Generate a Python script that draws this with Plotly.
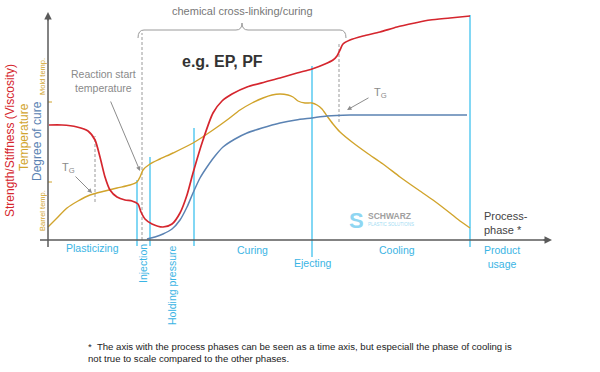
import plotly.graph_objects as go

# ---- data (x: process phase units from origin, y: height above phase axis) ----
red_x = [1, 14, 29, 40, 47, 52, 57, 62, 69, 77, 84, 90, 93, 97, 104, 115, 124, 132, 139, 145, 155, 165,
         174, 184, 199, 217, 232, 249, 264, 277, 285, 289, 292, 295, 302, 315, 332, 349, 367, 382, 402, 422]
red_y = [115, 115, 113, 109, 100, 83, 63, 50, 43, 40, 39, 36, 28, 21, 16, 13, 16, 27, 45, 67, 100, 127,
         139, 146, 153, 158, 162, 167, 171, 176, 180, 184, 190, 196, 200, 204, 208, 213, 217, 220, 222, 224]

temp_x = [0, 9, 19, 30, 42, 57, 69, 82, 89, 92, 95, 102, 112, 125, 145, 165, 179, 192, 204, 215, 224, 232,
          240, 245, 250, 257, 264, 269, 274, 279, 285, 292, 304, 319, 335, 352, 369, 385, 402, 412, 422]
temp_y = [13, 22, 32, 39, 45, 49, 52, 55, 58, 63, 70, 76, 81, 87, 97, 110, 120, 130, 137, 142, 145, 146,
          145, 143, 139, 137, 137, 135, 131, 124, 116, 108, 98, 87, 76, 63, 51, 40, 27, 19, 12]

cure_x = [99, 107, 115, 124, 132, 139, 145, 152, 159, 167, 175, 187, 199, 214, 232, 248, 264, 279, 302, 352, 419]
cure_y = [1, 3, 6, 11, 20, 33, 47, 62, 73, 84, 93, 101, 107, 112, 117, 120, 122, 124, 125, 125, 125]

phase_names = ["Plasticizing", "Injection", "Holding pressure", "Curing", "Ejecting", "Cooling", "Product<br>usage"]
phase_bounds_x = [89, 102, 146, 264, 422]
phase_bounds_top = [60, 83, 112, 174, 225]
phase_bounds_bottom = [-6, -6, -6, -17, -7]

dashed_x = [47, 94, 291]
dashed_top = [104, 207, 198]
dashed_bottom = [38, 0, 118]

RED = "#d5262e"
GOLD = "#d1a42c"
BLUE = "#5b83b3"
CYAN = "#63cdf2"
CYAN_TXT = "#3ab4e4"
GRAY = "#8a8a8a"
AXIS = "#5a5a5a"
FONT = "Liberation Sans, Arial, sans-serif"

fig = go.Figure()
fig.add_trace(go.Scatter(x=temp_x, y=temp_y, mode="lines", line=dict(color=GOLD, width=1.4, shape="spline", smoothing=0.7),
                         hoverinfo="skip"))
fig.add_trace(go.Scatter(x=cure_x, y=cure_y, mode="lines", line=dict(color=BLUE, width=1.5, shape="spline", smoothing=0.7),
                         hoverinfo="skip"))
fig.add_trace(go.Scatter(x=red_x, y=red_y, mode="lines", line=dict(color=RED, width=1.7, shape="spline", smoothing=0.7),
                         hoverinfo="skip"))

shapes = []
# phase boundary lines
for x, t, b in zip(phase_bounds_x, phase_bounds_top, phase_bounds_bottom):
    shapes.append(dict(type="line", xref="x", yref="y", x0=x, x1=x, y0=b, y1=t,
                       line=dict(color=CYAN, width=1.6), layer="below"))
# dashed lines
for x, t, b in zip(dashed_x, dashed_top, dashed_bottom):
    shapes.append(dict(type="line", xref="x", yref="y", x0=x, x1=x, y0=b, y1=t,
                       line=dict(color="#9a9a9a", width=1, dash="3px,2px"), layer="below"))
# temperature ticks
for ty in [138, 58]:
    shapes.append(dict(type="line", xref="x", yref="y", x0=0, x1=4, y0=ty, y1=ty, line=dict(color=GOLD, width=1)))
# axes lines
shapes.append(dict(type="line", xref="x", yref="y", x0=0, x1=0, y0=-7, y1=222, line=dict(color=AXIS, width=1.5)))
shapes.append(dict(type="line", xref="x", yref="y", x0=-8, x1=498, y0=0, y1=0, line=dict(color=AXIS, width=1.5)))
# brace
bl, bc, br = 90, 194, 298
ye, yb, yp = 202, 210, 217
brace = (f"M {bl},{ye} Q {bl},{yb} {bl+6},{yb} L {bc-6},{yb} Q {bc},{yb} {bc},{yp} "
         f"Q {bc},{yb} {bc+6},{yb} L {br-6},{yb} Q {br},{yb} {br},{ye}")
shapes.append(dict(type="path", xref="x", yref="y", path=brace, line=dict(color="#9a9a9a", width=1)))

ann = []
# axis arrowheads
ann.append(dict(x=0, y=228, ax=0, ay=218, xref="x", yref="y", axref="x", ayref="y", text="", showarrow=True,
                arrowhead=2, arrowsize=1, arrowwidth=1.5, arrowcolor=AXIS))
ann.append(dict(x=504, y=0, ax=494, ay=0, xref="x", yref="y", axref="x", ayref="y", text="", showarrow=True,
                arrowhead=2, arrowsize=1, arrowwidth=1.5, arrowcolor=AXIS))

def txt(x, y, t, size, color, **kw):
    d = dict(x=x, y=y, xref="x", yref="y", text=t, showarrow=False, font=dict(family=FONT, size=size, color=color))
    d.update(kw)
    ann.append(d)

def arrow(x, y, ax, ay):
    ann.append(dict(x=x, y=y, ax=ax, ay=ay, xref="x", yref="y", axref="x", ayref="y", text="", showarrow=True,
                    arrowhead=2, arrowsize=0.9, arrowwidth=1, arrowcolor="#8c8c8c"))

txt(194, 229, "chemical cross-linking/curing", 11, "#777777")
txt(174, 179, "<b>e.g. EP, PF</b>", 16, "#333333")
txt(55, 159, "Reaction start<br>temperature", 10.5, GRAY)
arrow(92, 69, 62, 140)
txt(20, 72, "T<sub>G</sub>", 11, GRAY)
arrow(44, 47, 26, 65)
txt(332, 147, "T<sub>G</sub>", 11, GRAY)
arrow(299, 130, 322, 143)

# y-axis titles
txt(-38, 99, "Strength/Stiffness (Viscosity)", 12, RED, textangle=-90)
txt(-24, 103, "Temperature", 12, GOLD, textangle=-90)
txt(-11, 99, "Degree of cure", 12, BLUE, textangle=-90)
txt(-6, 163, "Mold temp.", 7.5, GOLD, textangle=-90)
txt(-6, 29, "Barrel temp.", 7.5, GOLD, textangle=-90)

# phase labels
phase_pos = [(44, -8, 0), (95, -24, -90), (124, -45, -90), (204, -10, 0), (265, -23, 0), (349, -10, 0), (454, -17, 0)]
for name, (px, py, ang) in zip(phase_names, phase_pos):
    txt(px, py, name, 10.5, CYAN_TXT, textangle=ang)

txt(434, 17, "Process-<br>phase *", 11, "#444444", xanchor="left", align="left")

# logo
txt(308, 20, "<b>S</b>", 22, "#8fd6f2")
txt(318, 24, "<b>SCHWARZ</b>", 8.5, "#a0a0a0", xanchor="left")
txt(318, 16, "PLASTIC SOLUTIONS", 4.5, "#9fdcf3", xanchor="left")

# footnote
txt(38, -99, "*  The axis with the process phases can be seen as a time axis, but especiall the phase of cooling is<br>"
             "not true to scale compared to the other phases.", 9.6, "#222222", xanchor="left", yanchor="top",
    align="left")

fig.update_layout(
    width=600, height=372, margin=dict(l=0, r=0, t=0, b=0),
    paper_bgcolor="white", plot_bgcolor="white", showlegend=False,
    xaxis=dict(range=[-48, 552], visible=False, fixedrange=True),
    yaxis=dict(range=[-132, 240], visible=False, fixedrange=True),
    shapes=shapes, annotations=ann,
)
fig.write_html("out.html", config={"displayModeBar": False, "staticPlot": True},
               post_script="document.body.style.margin='0';document.body.style.overflow='hidden';")
